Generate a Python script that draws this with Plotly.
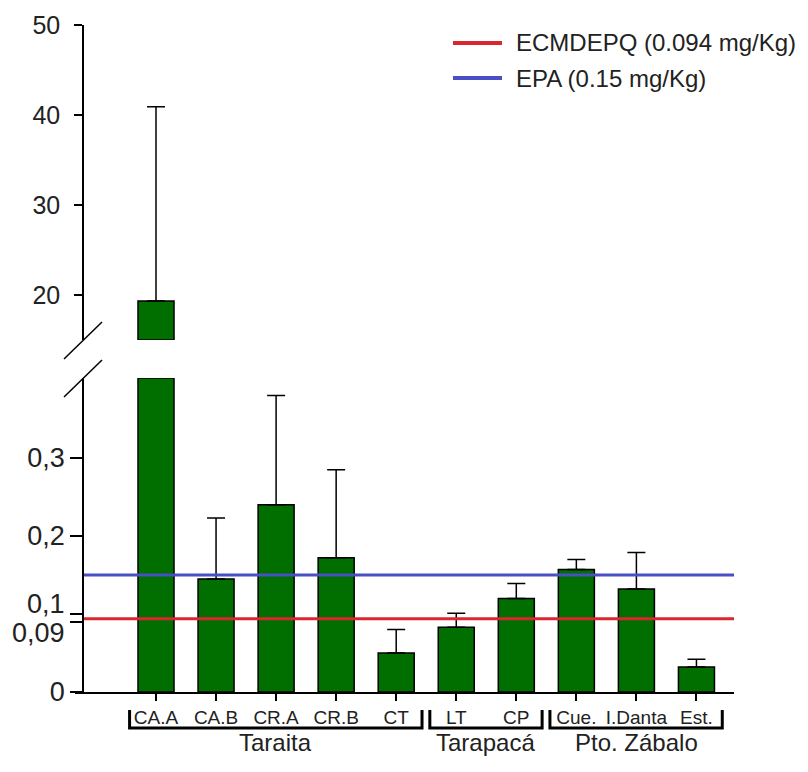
import numpy as np
import plotly.graph_objects as go

# ---------------- data ----------------
categories = ["CA.A", "CA.B", "CR.A", "CR.B", "CT", "LT", "CP", "Cue.", "I.Danta", "Est."]
means = [19.33, 0.145, 0.240, 0.172, 0.050, 0.083, 0.120, 0.157, 0.132, 0.032]
sd_up = [21.6, 0.078, 0.140, 0.113, 0.030, 0.018, 0.019, 0.013, 0.047, 0.010]
groups = ["Taraita", "Tarapacá", "Pto. Zábalo"]
group_sizes = [5, 2, 3]
ref_names = ["ECMDEPQ (0.094 mg/Kg)", "EPA (0.15 mg/Kg)"]
ref_values = [0.094, 0.15]
ref_colors = ["#d9262f", "#4a4fc3"]
low_ticks = [0, 0.09, 0.1, 0.2, 0.3]
low_ticktext = ["0", "0,09", "0,1", "0,2", "0,3"]
high_ticks = [20, 30, 40, 50]
high_ticktext = ["20", "30", "40", "50"]

# ---------------- layout geometry (pixels) ----------------
W, H = 808, 772
FONT = "Liberation Sans, Arial, sans-serif"
GREEN = "#006f00"
TXT = "#222"

def px_x(p):
    return p / W

def px_y(p):
    return 1 - p / H

x_left_px, x_right_px = 75, 734
yaxis_px = 83
bar0_px, step_px = 156, 60.05
x_range = [(x_left_px - bar0_px) / step_px, (x_right_px - bar0_px) / step_px]

low_dom_px = (378, 692)       # top, bottom
high_dom_px = (25, 340)
low_range = [0, (low_dom_px[1] - low_dom_px[0]) / 780.0]
high_range = [15, 50]

x = np.arange(len(categories))
means_a = np.array(means)
sd_a = np.array(sd_up)
over = means_a > low_range[1]
inr = ~over

fig = go.Figure()

bar_style = dict(marker=dict(color=GREEN, line=dict(color="black", width=1.5)),
                 width=0.6, showlegend=False, hoverinfo="x+y")

# bottom segment: bars within range (with error bars)
fig.add_trace(go.Bar(
    x=x[inr], y=means_a[inr], xaxis="x", yaxis="y",
    error_y=dict(type="data", symmetric=False, array=sd_a[inr],
                 arrayminus=np.zeros(inr.sum()), color="black",
                 thickness=1.5, width=9),
    **bar_style,
))
# bottom segment: bars exceeding the lower range (cut at the break)
fig.add_trace(go.Bar(
    x=x[over], y=np.minimum(means_a[over], low_range[1]), xaxis="x", yaxis="y",
    **bar_style,
))
# top segment: part of the tall bar above the break
fig.add_trace(go.Bar(
    x=x[over], y=means_a[over] - high_range[0], base=high_range[0],
    xaxis="x", yaxis="y2",
    error_y=dict(type="data", symmetric=False, array=sd_a[over],
                 arrayminus=np.zeros(over.sum()), color="black",
                 thickness=1.5, width=9),
    **bar_style,
))

# reference lines
x_line_left = x_range[0] + (yaxis_px - x_left_px) / step_px
for name, val, col in zip(ref_names, ref_values, ref_colors):
    fig.add_trace(go.Scatter(
        x=[x_line_left, x_range[1]], y=[val, val], mode="lines",
        line=dict(color=col, width=3), name=name, showlegend=False,
        xaxis="x", yaxis="y", hoverinfo="skip",
    ))

shapes = []
annotations = []

# custom legend
leg_y_px = [43, 78]
for name, col, ly in zip(ref_names, ref_colors, leg_y_px):
    shapes.append(dict(type="line", xref="paper", yref="paper",
                       x0=px_x(453), x1=px_x(502), y0=px_y(ly), y1=px_y(ly),
                       line=dict(color=col, width=4)))
    annotations.append(dict(text=name, xref="paper", yref="paper",
                            x=px_x(514), y=px_y(ly), xanchor="left", yanchor="middle",
                            showarrow=False, font=dict(family=FONT, size=24, color=TXT)))

# axis break marks
for (x0, y0, x1, y1) in [(64, 359, 102, 322), (64, 397, 102, 360)]:
    shapes.append(dict(type="line", xref="paper", yref="paper",
                       x0=px_x(x0), y0=px_y(y0), x1=px_x(x1), y1=px_y(y1),
                       line=dict(color="black", width=1.5)))

# group brackets and labels
start = 0
br_top, br_bot = 710, 728
for g, n in zip(groups, group_sizes):
    a = start - 0.44
    b = start + n - 1 + 0.43
    shapes.append(dict(type="path", xref="x", yref="paper",
                       path=f"M {a},{px_y(br_top)} L {a},{px_y(br_bot)} L {b},{px_y(br_bot)} L {b},{px_y(br_top)}",
                       line=dict(color="black", width=3)))
    annotations.append(dict(text=g, xref="x", yref="paper", x=(a + b) / 2, y=px_y(742),
                            xanchor="center", yanchor="middle", showarrow=False,
                            font=dict(family=FONT, size=24, color=TXT)))
    start += n

# the two crowded low tick labels, shifted apart
lab_right = px_x(67)
annotations.append(dict(text=low_ticktext[2], xref="paper", yref="y", x=lab_right, y=low_ticks[2],
                        xanchor="right", yanchor="middle", yshift=10, showarrow=False,
                        font=dict(family=FONT, size=27, color=TXT)))
annotations.append(dict(text=low_ticktext[1], xref="paper", yref="y", x=lab_right, y=low_ticks[1],
                        xanchor="right", yanchor="middle", yshift=-11, showarrow=False,
                        font=dict(family=FONT, size=27, color=TXT)))
low_text_axis = [t if i not in (1, 2) else "" for i, t in enumerate(low_ticktext)]

fig.update_layout(
    width=W, height=H,
    margin=dict(l=0, r=0, t=0, b=0),
    paper_bgcolor="white", plot_bgcolor="rgba(0,0,0,0)",
    template="none",
    barmode="overlay",
    showlegend=False,
    font=dict(family=FONT, color=TXT),
    xaxis=dict(domain=[px_x(x_left_px), px_x(x_right_px)], range=x_range,
               anchor="y", showline=True, linecolor="black", linewidth=2,
               tickmode="array", tickvals=x.tolist(), ticktext=categories,
               ticks="outside", ticklen=7, tickwidth=1.5, tickcolor="black",
               tickfont=dict(family=FONT, size=19, color=TXT),
               showgrid=False, zeroline=False, automargin=False, fixedrange=True),
    yaxis=dict(domain=[px_y(low_dom_px[1]), px_y(low_dom_px[0])], range=low_range,
               anchor="free", position=px_x(yaxis_px),
               showline=True, linecolor="black", linewidth=1.5,
               tickmode="array", tickvals=low_ticks, ticktext=low_text_axis,
               ticks="outside", ticklen=12, tickwidth=1.5, tickcolor="black",
               tickfont=dict(family=FONT, size=27, color=TXT),
               showgrid=False, zeroline=False, automargin=False, fixedrange=True),
    yaxis2=dict(domain=[px_y(high_dom_px[1]), px_y(high_dom_px[0])], range=high_range,
                anchor="free", position=px_x(yaxis_px),
                showline=True, linecolor="black", linewidth=1.5,
                tickmode="array", tickvals=high_ticks, ticktext=high_ticktext,
                ticks="outside", ticklen=8, tickwidth=1.5, tickcolor="black",
                tickfont=dict(family=FONT, size=25, color=TXT), ticklabelstandoff=9,
                showgrid=False, zeroline=False, automargin=False, fixedrange=True),
    shapes=shapes,
    annotations=annotations,
)

fig.write_html("out.html", config={"displayModeBar": False},
               post_script="document.body.style.margin='0';")
